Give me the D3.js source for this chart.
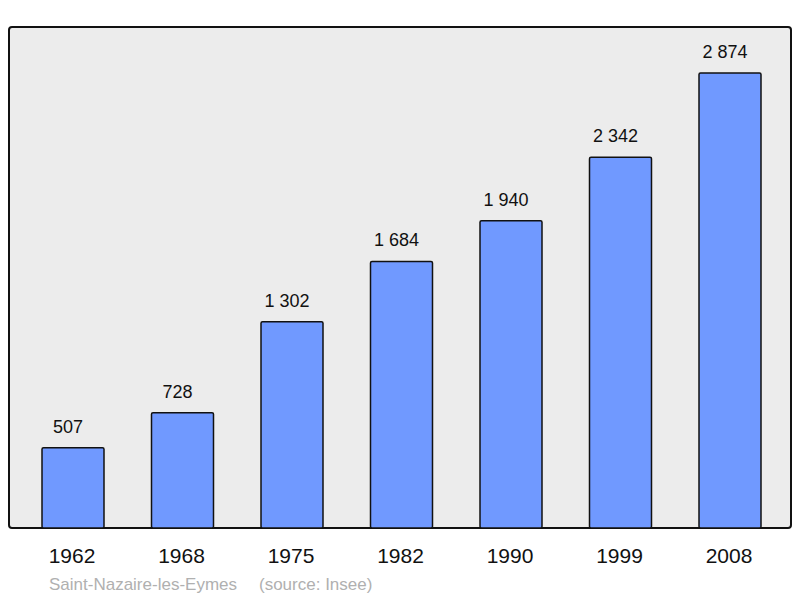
<!DOCTYPE html>
<html>
<head>
<meta charset="utf-8">
<script src="https://cdn.jsdelivr.net/npm/d3@7"></script>
<style>
  body { margin: 0; background: #fff; }
  text { font-family: "Liberation Sans", Arial, sans-serif; }
</style>
</head>
<body>
<svg id="chart"></svg>
<script>
var years = ["1962", "1968", "1975", "1982", "1990", "1999", "2008"];
var population = [507, 728, 1302, 1684, 1940, 2342, 2874];

var width = 800, height = 598;
var panel = {left: 9, top: 27, right: 791, bottom: 528};
var barWidth = 62;

var svg = d3.select("#chart")
    .attr("width", width)
    .attr("height", height);

svg.append("rect")
    .attr("x", panel.left)
    .attr("y", panel.top)
    .attr("width", panel.right - panel.left)
    .attr("height", panel.bottom - panel.top)
    .attr("rx", 3)
    .attr("fill", "#ececec")
    .attr("stroke", "#111")
    .attr("stroke-width", 2);

var xScale = d3.scaleBand()
    .domain(years)
    .range([18.25, 784.75]);

var yScale = d3.scaleLinear()
    .domain([0, 2874])
    .range([panel.bottom, 73]);

var fmt = function (v) { return d3.format(",")(v).replace(/,/g, " "); };
var data = years.map(function (y, i) { return {year: y, value: population[i]}; });

function cx(d) { return xScale(d.year) + xScale.bandwidth() / 2; }

svg.selectAll(".bar")
    .data(data)
    .enter().append("rect")
    .attr("class", "bar")
    .attr("x", function (d) { return cx(d) - barWidth / 2; })
    .attr("y", function (d) { return yScale(d.value); })
    .attr("width", barWidth)
    .attr("height", function (d) { return panel.bottom - yScale(d.value); })
    .attr("rx", 1.5)
    .attr("fill", "#7099ff")
    .attr("stroke", "#111")
    .attr("stroke-width", 1.5);

svg.selectAll(".val")
    .data(data)
    .enter().append("text")
    .attr("class", "val")
    .attr("x", function (d) { return cx(d) - 5; })
    .attr("y", function (d) { return yScale(d.value) - 15; })
    .attr("text-anchor", "middle")
    .style("font-size", "18px")
    .attr("fill", "#111")
    .text(function (d) { return fmt(d.value); });

svg.selectAll(".year")
    .data(data)
    .enter().append("text")
    .attr("class", "year")
    .attr("x", function (d) { return cx(d) - 1; })
    .attr("y", 563)
    .attr("text-anchor", "middle")
    .style("font-size", "21px")
    .attr("fill", "#111")
    .text(function (d) { return d.year; });

svg.append("text")
    .attr("x", 49)
    .attr("y", 590)
    .style("font-size", "17px")
    .attr("fill", "#b0b0b0")
    .text("Saint-Nazaire-les-Eymes");

svg.append("text")
    .attr("x", 259)
    .attr("y", 590)
    .style("font-size", "17px")
    .attr("fill", "#b0b0b0")
    .text("(source: Insee)");
</script>
</body>
</html>
